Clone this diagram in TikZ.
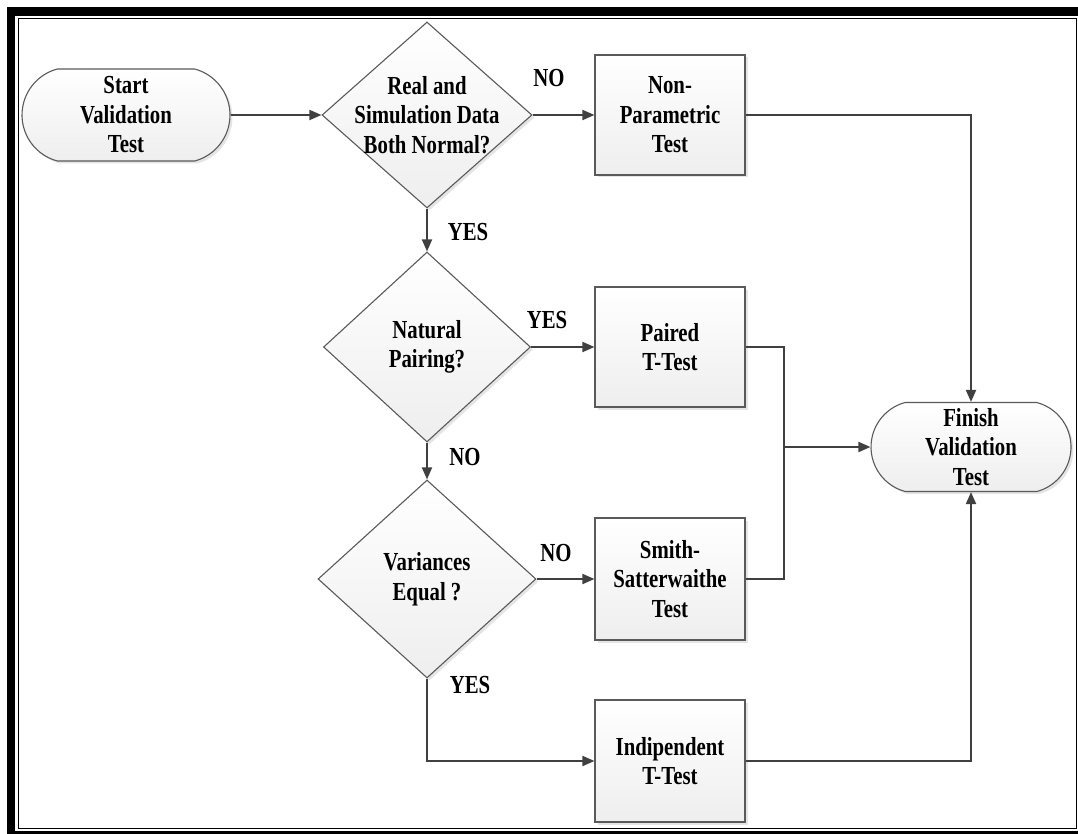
\documentclass[tikz,border=0pt]{standalone}
\usepackage{fontspec}
\setmainfont[FakeStretch=0.8]{Liberation Serif}
\usetikzlibrary{shapes.geometric,shapes.misc,arrows.meta,shadows}
\definecolor{edgegray}{HTML}{5A5A5A}
\definecolor{linegray}{HTML}{404040}
\definecolor{fillbot}{HTML}{EEEEEE}
\begin{document}
\begin{tikzpicture}[x=1pt,y=-1pt,
  font=\bfseries\fontsize{26}{29.5}\selectfont,
  shapebase/.style={draw=edgegray, line width=1.1pt, top color=white, bottom color=fillbot,
    drop shadow={shadow xshift=2.5pt, shadow yshift=-2.5pt, fill=black, opacity=0.10}},
  terminal/.style={shapebase, rounded rectangle, rounded rectangle arc length=150, inner sep=0pt, align=center},
  process/.style={shapebase, rectangle, minimum width=150pt, minimum height=120pt, inner sep=0pt, align=center},
  decision/.style={shapebase, diamond, inner sep=0pt},
  txt/.style={align=center, inner sep=0pt},
  conn/.style={draw=linegray, line width=1.8pt, -{Triangle[length=12pt,width=10pt]}},
  plain/.style={draw=linegray, line width=1.8pt},
  lbl/.style={inner sep=0pt}
]
\useasboundingbox (0,0) rectangle (1078,834);
% frame
\fill[black] (7,7) rectangle (1078,16);
\fill[black] (7,7) rectangle (15,834);
\fill[black] (7,831) rectangle (1078,834);
\draw[black, line width=1.5pt] (18.5,18.5) rectangle (1076.5,828.5);

% nodes
\node[terminal, minimum width=208pt, minimum height=92pt] (start) at (126,115) {Start\\Validation\\Test};
\node[decision, minimum width=210pt, minimum height=186pt,
  label={[txt]center:{Real and\\Simulation Data\\Both Normal?}}] (d1) at (427,115) {};
\node[process] (np) at (670,115) {Non-\\Parametric\\Test};
\node[decision, minimum width=207pt, minimum height=190pt,
  label={[txt]center:{Natural\\Pairing?}}] (d2) at (427,347) {};
\node[process] (paired) at (670,347) {Paired\\T-Test};
\node[decision, minimum width=218pt, minimum height=198pt,
  label={[txt]center:{Variances\\Equal ?}}] (d3) at (427,579) {};
\node[process, minimum height=122pt] (smith) at (670,579) {Smith-\\Satterwaithe\\Test};
\node[process, minimum height=122pt] (indep) at (670,761) {Indipendent\\T-Test};
\node[terminal, minimum width=200pt, minimum height=89pt] (finish) at (971,447) {Finish\\Validation\\Test};
\coordinate (j) at (784,447);

% connectors
\draw[conn] (start.east) -- (d1.west);
\draw[conn] (d1.east) -- (np.west);
\draw[conn] (np.east) -| (finish.north);
\draw[conn] (d1.south) -- (d2.north);
\draw[conn] (d2.east) -- (paired.west);
\draw[conn] (d2.south) -- (d3.north);
\draw[conn] (d3.east) -- (smith.west);
\draw[conn] (d3.south) |- (indep.west);
\draw[plain] (paired.east) -| (j);
\draw[plain] (smith.east) -| (j);
\draw[conn] (j) -- (finish.west);
\draw[conn] (indep.east) -| (finish.south);

% labels
\node[lbl] (l1) at (549,78) {NO};
\node[lbl] (l2) at (468,232) {YES};
\node[lbl] (l3) at (547,320) {YES};
\node[lbl] (l4) at (465,457) {NO};
\node[lbl] (l5) at (556,553) {NO};
\node[lbl] (l6) at (470,685) {YES};
\end{tikzpicture}
\end{document}
